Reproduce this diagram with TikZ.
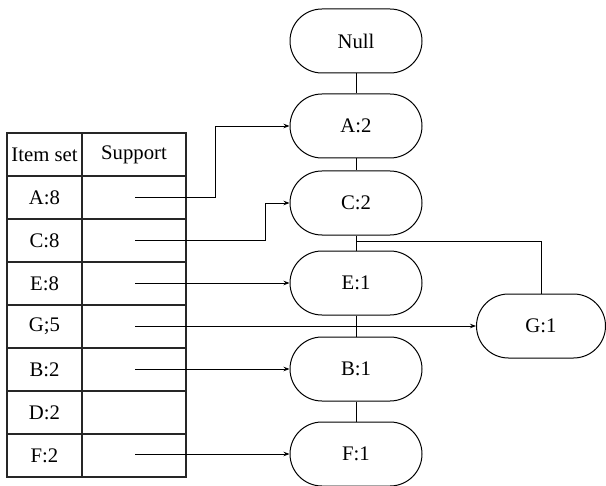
\documentclass[tikz,border=0pt]{standalone}
\usepackage{fontspec}
\setmainfont{Liberation Serif}
\usetikzlibrary{arrows.meta}
\begin{document}
\begin{tikzpicture}[x=1bp,y=-1bp,
  every node/.style={font=\fontsize{20.8}{24}\selectfont},
  item/.style={draw, line width=1bp, rounded corners=32bp, minimum width=132bp,
    minimum height=64bp, inner sep=0pt},
  cell/.style={inner sep=0pt},
  link/.style={line width=0.9bp, -{Stealth[length=6bp,width=4.5bp]}},
  tree/.style={line width=0.9bp},
  grid/.style={line width=1.2bp, draw=black!85}]
\useasboundingbox (0,0) rectangle (606,486);

% header table of item supports
\draw[grid] (7,133) rectangle (186,477);
\draw[grid] (82,133) -- (82,477);
\foreach \y in {176,219,262,305,348,391,434} \draw[grid] (7,\y) -- (186,\y);

\node[cell] (hItem) at (44.5,154.5) {Item set};
\node[cell] (hSup)  at (134,154.5) {Support};
\node[cell] (rA) at (44.5,197.5) {A:8};
\node[cell] (rC) at (44.5,240.5) {C:8};
\node[cell] (rE) at (44.5,283.5) {E:8};
\node[cell] (rG) at (44.5,326.5) {G;5};
\node[cell] (rB) at (44.5,369.5) {B:2};
\node[cell] (rD) at (44.5,412.5) {D:2};
\node[cell] (rF) at (44.5,455.5) {F:2};

% start points of the node links
\coordinate (sA) at (135,197.7);
\coordinate (sC) at (135,240.7);
\coordinate (sE) at (135,283);
\coordinate (sG) at (135,326);
\coordinate (sB) at (135,369);
\coordinate (sF) at (135,454);

% FP tree
\node[item] (Null) at (356,41)  {Null};
\node[item] (A)    at (356,126) {A:2};
\node[item] (C)    at (356,203) {C:2};
\node[item] (E)    at (356,283) {E:1};
\node[item] (B)    at (356,369) {B:1};
\node[item] (F)    at (356,454) {F:1};
\node[item, minimum width=129bp] (G) at (541,326) {G:1};

\draw[tree] (Null) -- (A);
\draw[tree] (A) -- (C);
\draw[tree] (C) -- (E);
\draw[tree] (E) -- (B);
\draw[tree] (B) -- (F);
\coordinate (j) at (356,241.5);
\draw[tree] (j) -| (G.north);

% node links from the header table
\draw[link] (sA) -- ++(80,0) |- (A.west);
\draw[link] (sC) -- ++(130,0) |- (C.west);
\draw[link] (sE) -- (E.west);
\draw[link] (sG) -- (G.west);
\draw[link] (sB) -- (B.west);
\draw[link] (sF) -- (F.west);
\end{tikzpicture}
\end{document}
